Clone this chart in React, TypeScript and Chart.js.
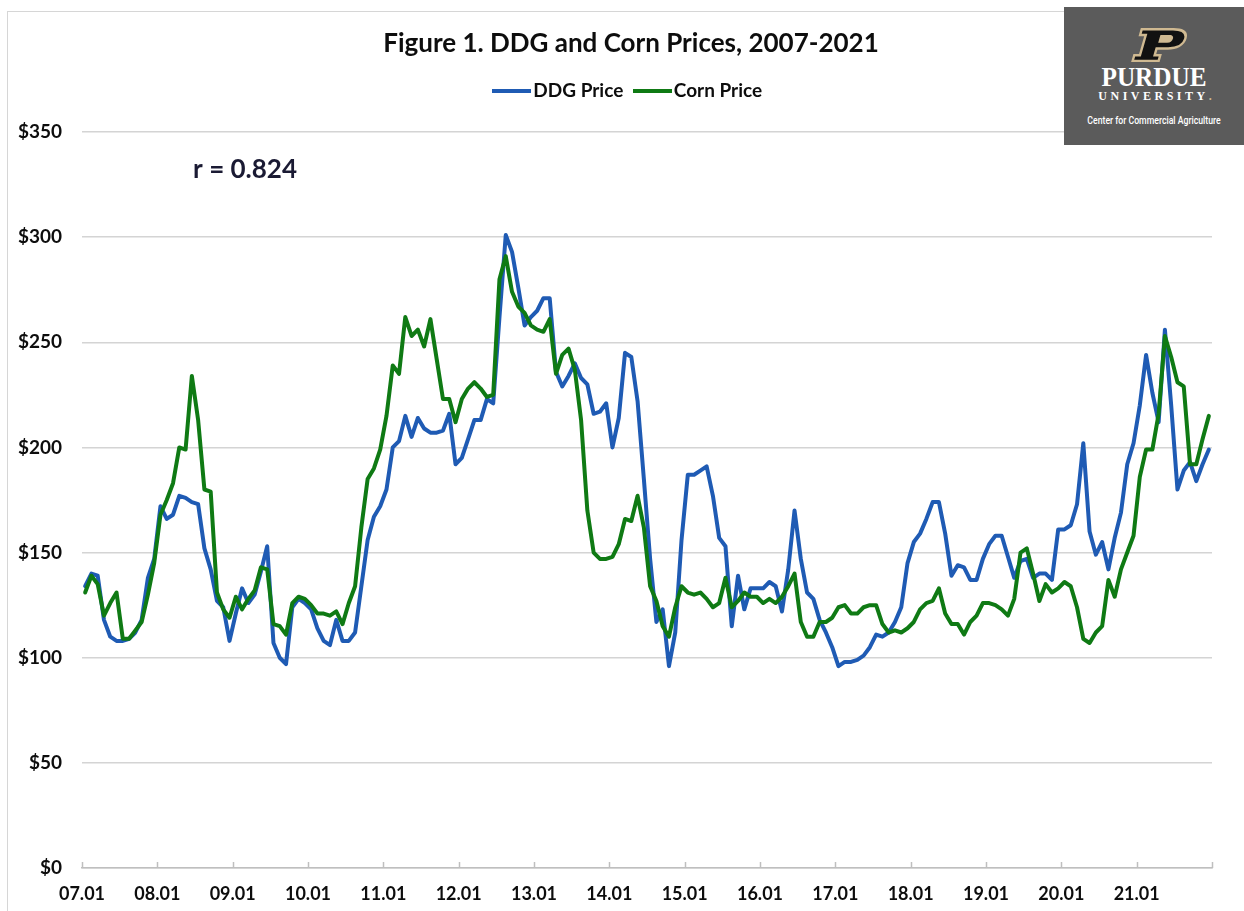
import React, { useEffect, useRef } from 'react';
import { Chart, registerables } from 'chart.js';

Chart.register(...registerables);

const chartTitle = 'Figure 1. DDG and Corn Prices, 2007-2021';
const correlationText = 'r = 0.824';
const seriesLabels = ['DDG Price', 'Corn Price'];
const seriesColors = ['#1f5bb4', '#0f7a14'];

// Year tick labels (one per January, 2007-2021)
const yearTickLabels = [
  '07.01', '08.01', '09.01', '10.01', '11.01', '12.01', '13.01', '14.01',
  '15.01', '16.01', '17.01', '18.01', '19.01', '20.01', '21.01',
];

// Monthly DDG price, Jan 2007 - Dec 2021 ($/ton)
const ddgPrice = [
  134, 140, 139, 118, 110, 108, 108, 109, 112, 118, 138, 147,
  172, 166, 168, 177, 176, 174, 173, 152, 142, 127, 124, 108,
  121, 133, 126, 130, 141, 153, 107, 100, 97, 124, 128, 126,
  123, 114, 108, 106, 118, 108, 108, 112, 134, 156, 167, 172,
  180, 200, 203, 215, 205, 214, 209, 207, 207, 208, 216, 192,
  195, 204, 213, 213, 223, 221, 262, 301, 293, 276, 258, 262,
  265, 271, 271, 236, 229, 234, 240, 233, 230, 216, 217, 221,
  200, 214, 245, 243, 222, 185, 147, 117, 123, 96, 112, 156,
  187, 187, 189, 191, 177, 157, 153, 115, 139, 123, 133, 133,
  133, 136, 134, 122, 142, 170, 147, 131, 128, 118, 112, 105,
  96, 98, 98, 99, 101, 105, 111, 110, 112, 117, 124, 145,
  155, 159, 166, 174, 174, 159, 139, 144, 143, 137, 137, 147,
  154, 158, 158, 148, 138, 146, 147, 138, 140, 140, 137, 161,
  161, 163, 173, 202, 160, 149, 155, 142, 157, 169, 192, 202,
  220, 244, 226, 212, 256, 220, 180, 189, 193, 184, 192, 199,
];

// Monthly corn price, Jan 2007 - Dec 2021 ($/ton)
const cornPrice = [
  131, 139, 135, 120, 126, 131, 109, 109, 113, 117, 130, 145,
  168, 175, 183, 200, 199, 234, 213, 180, 179, 131, 123, 119,
  129, 123, 128, 132, 143, 142, 116, 115, 111, 126, 129, 128,
  125, 121, 121, 120, 122, 116, 126, 134, 162, 185, 190, 199,
  215, 239, 235, 262, 253, 256, 248, 261, 242, 223, 223, 212,
  223, 228, 231, 228, 224, 225, 280, 291, 274, 267, 264, 258,
  256, 255, 261, 235, 244, 247, 237, 213, 170, 150, 147, 147,
  148, 154, 166, 165, 177, 162, 134, 127, 115, 110, 124, 134,
  131, 130, 131, 128, 124, 126, 138, 124, 127, 131, 129, 129,
  126, 128, 126, 129, 134, 140, 117, 110, 110, 117, 117, 119,
  124, 125, 121, 121, 124, 125, 125, 116, 112, 113, 112, 114,
  117, 123, 126, 127, 133, 121, 116, 116, 111, 117, 120, 126,
  126, 125, 123, 120, 128, 150, 152, 140, 127, 135, 131, 133,
  136, 134, 124, 109, 107, 112, 115, 137, 129, 142, 150, 158,
  186, 199, 199, 216, 253, 243, 231, 229, 192, 192, 204, 215,
];

const FONT = 'Lato, "Open Sans", sans-serif';
const TEXT_COLOR = '#0d0d0d';

function makeLegendLine(color: string): HTMLCanvasElement {
  const c = document.createElement('canvas');
  c.width = 39;
  c.height = 4;
  const g = c.getContext('2d');
  if (g) {
    g.fillStyle = color;
    g.fillRect(0, 0, 39, 4);
  }
  return c;
}

const decorPlugin = {
  id: 'decor',
  afterDraw(chart: any) {
    const { ctx, chartArea, scales } = chart;
    const xs = scales.x;
    const ys = scales.y;
    ctx.save();
    // inward tick marks on the category axis
    ctx.strokeStyle = '#bfbfbf';
    ctx.lineWidth = 1.5;
    for (let v = 0; v <= yearTickLabels.length * 12; v += 12) {
      const px = Math.round(xs.getPixelForValue(v)) + 0.5;
      ctx.beginPath();
      ctx.moveTo(px, chartArea.bottom);
      ctx.lineTo(px, chartArea.bottom - 6);
      ctx.stroke();
    }
    // correlation annotation
    ctx.font = `bold 26px ${FONT}`;
    ctx.fillStyle = '#1a1a33';
    ctx.textAlign = 'left';
    ctx.textBaseline = 'middle';
    ctx.fillText(correlationText, xs.getPixelForValue(17.7), ys.getPixelForValue(332));
    ctx.restore();
  },
};

function PurdueLogo() {
  return (
    <div
      style={{
        position: 'absolute',
        left: 1064,
        top: 7,
        width: 180,
        height: 138,
        background: '#5b5b5b',
        color: '#ffffff',
        overflow: 'hidden',
      }}
    >
      <svg
        style={{ position: 'absolute', left: 64, top: 20 }}
        width={62}
        height={35}
        viewBox="0 0 54 31"
      >
        <g transform="translate(10,1) skewX(-16)">
          <path
            d="M2,1 H30 C39,1 43,4 43,9.5 C43,15 38,18 30,18 H20 L20,24 H25 V29 H2 V24 H7 V6 H2 Z"
            fill="#111111"
            stroke="#cfb991"
            strokeWidth={2.2}
            strokeLinejoin="miter"
          />
          <path
            d="M20,6 H28 C31,6 32,7.5 32,9.5 C32,11.5 31,13 28,13 H20 Z"
            fill="#cfb991"
          />
        </g>
      </svg>
      <div
        style={{
          position: 'absolute',
          left: 0,
          top: 56,
          width: 180,
          textAlign: 'center',
          fontFamily: '"Liberation Serif", "DejaVu Serif", serif',
          fontWeight: 'bold',
          fontSize: 28,
          lineHeight: '28px',
          transform: 'scaleX(0.9)',
        }}
      >
        PURDUE
      </div>
      <div
        style={{
          position: 'absolute',
          left: 0,
          top: 83,
          width: 182,
          textAlign: 'center',
          fontFamily: '"Liberation Serif", "DejaVu Serif", serif',
          fontWeight: 'bold',
          fontSize: 12,
          lineHeight: '12px',
          letterSpacing: 3.5,
        }}
      >
        UNIVERSITY<span style={{ color: '#cfb991', letterSpacing: 0 }}>.</span>
      </div>
      <div
        style={{
          position: 'absolute',
          left: -10,
          top: 107,
          width: 200,
          textAlign: 'center',
          fontFamily: 'Roboto, "Noto Sans", sans-serif',
          fontWeight: 500,
          fontSize: 11,
          lineHeight: '13px',
          transform: 'scaleX(0.79)',
          whiteSpace: 'nowrap',
        }}
      >
        Center for Commercial Agriculture
      </div>
    </div>
  );
}

export default function App() {
  const canvasRef = useRef<HTMLCanvasElement | null>(null);

  useEffect(() => {
    const canvas = canvasRef.current;
    if (!canvas) return;
    Chart.defaults.font.family = FONT;

    const ddgPoints = ddgPrice.map((v, i) => ({ x: i + 0.5, y: v }));
    const cornPoints = cornPrice.map((v, i) => ({ x: i + 0.5, y: v }));

    const chart = new Chart(canvas, {
      type: 'line',
      data: {
        datasets: [
          {
            label: seriesLabels[0],
            data: ddgPoints,
            borderColor: seriesColors[0],
            backgroundColor: seriesColors[0],
            borderWidth: 4,
            borderJoinStyle: 'round',
            borderCapStyle: 'round',
            pointRadius: 0,
            pointHoverRadius: 0,
            pointStyle: makeLegendLine(seriesColors[0]) as any,
            tension: 0,
            order: 1,
          },
          {
            label: seriesLabels[1],
            data: cornPoints,
            borderColor: seriesColors[1],
            backgroundColor: seriesColors[1],
            borderWidth: 4,
            borderJoinStyle: 'round',
            borderCapStyle: 'round',
            pointRadius: 0,
            pointHoverRadius: 0,
            pointStyle: makeLegendLine(seriesColors[1]) as any,
            tension: 0,
            order: 0,
          },
        ],
      },
      options: {
        responsive: false,
        animation: false,
        events: [],
        layout: { padding: { left: 18, right: 0, top: 0, bottom: 0 } },
        plugins: {
          title: {
            display: true,
            text: chartTitle,
            color: TEXT_COLOR,
            font: { family: FONT, size: 26, weight: 'bold' },
            padding: { top: 28, bottom: 5.3 },
          },
          legend: {
            display: true,
            position: 'top',
            labels: {
              usePointStyle: true,
              pointStyleWidth: 24,
              color: TEXT_COLOR,
              font: { family: FONT, size: 19, weight: 'bold' },
              padding: 17,
              sort: (a: any, b: any) => a.datasetIndex - b.datasetIndex,
            },
          },
          subtitle: {
            display: true,
            text: '',
            weight: 100,
            font: { size: 10 },
            padding: { top: 9.5, bottom: 0 },
          } as any,
          tooltip: { enabled: false },
        },
        scales: {
          x: {
            type: 'linear',
            min: 0,
            max: yearTickLabels.length * 12,
            offset: false,
            grid: { display: false, drawTicks: false },
            border: { display: true, color: '#bfbfbf', width: 1.5 },
            ticks: {
              stepSize: 12,
              autoSkip: false,
              maxRotation: 0,
              padding: 15,
              color: TEXT_COLOR,
              font: { family: FONT, size: 18, weight: 'bold' },
              callback: (value: any) => {
                const idx = Math.round(Number(value) / 12);
                return yearTickLabels[idx] ?? '';
              },
            },
            afterFit: (scale: any) => {
              scale.height = 43;
              scale.paddingRight = 32;
            },
          },
          y: {
            min: 0,
            max: 350,
            grid: { color: '#d4d4d4', lineWidth: 1.5, drawTicks: false },
            border: { display: false },
            ticks: {
              stepSize: 50,
              padding: 20,
              color: TEXT_COLOR,
              font: { family: FONT, size: 19, weight: 'bold' },
              callback: (value: any) => '$' + value,
            },
            afterFit: (scale: any) => {
              scale.width = 64;
            },
          },
        },
      },
      plugins: [decorPlugin],
    });

    return () => {
      chart.destroy();
    };
  }, []);

  return (
    <div
      style={{
        position: 'fixed',
        left: 0,
        top: 0,
        width: 1244,
        height: 911,
        background: '#ffffff',
        overflow: 'hidden',
      }}
    >
      <div
        style={{
          position: 'absolute',
          left: 7,
          top: 11,
          width: 1300,
          height: 1000,
          border: '1px solid #d6d6d6',
          boxSizing: 'border-box',
        }}
      />
      <canvas
        ref={canvasRef}
        width={1244}
        height={911}
        style={{ position: 'absolute', left: 0, top: 0, width: 1244, height: 911, display: 'block' }}
      />
      <PurdueLogo />
    </div>
  );
}
